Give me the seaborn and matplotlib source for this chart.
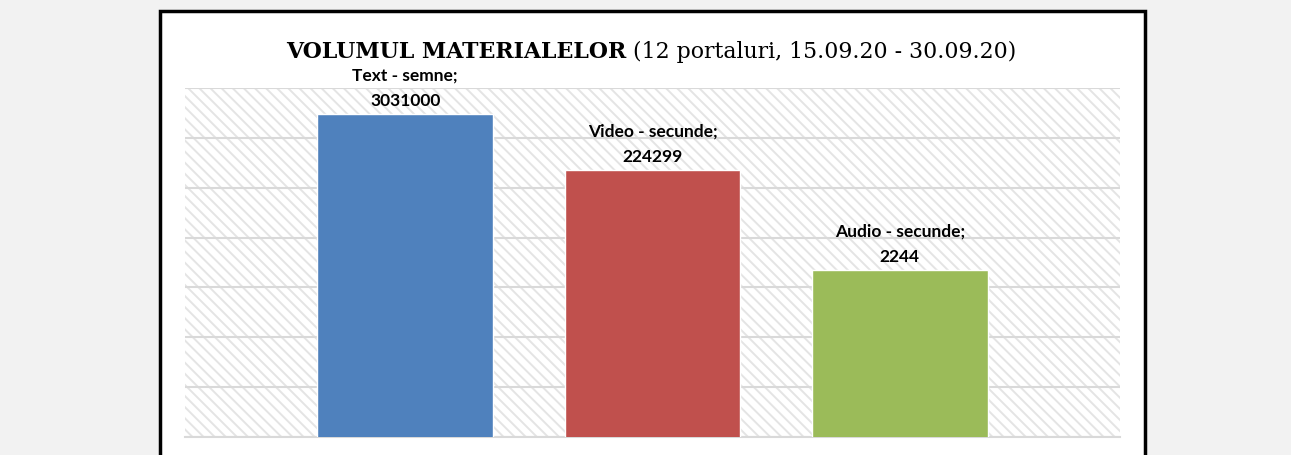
import numpy as np
import pandas as pd
import seaborn as sns
import matplotlib.pyplot as plt
from matplotlib.patches import Rectangle

# data
categories = ["Text - semne;", "Video - secunde;", "Audio - secunde;"]
values = [3031000, 224299, 2244]
bar_colors = ["#4f81bd", "#c0504d", "#9bbb59"]
title_bold = "VOLUMUL MATERIALELOR"
title_rest = " (12 portaluri, 15.09.20 - 30.09.20)"

df = pd.DataFrame({"cat": categories, "val": values})

sns.set_theme(style="white")
plt.rcParams["font.family"] = ["Lato", "DejaVu Sans"]
plt.rcParams["hatch.linewidth"] = 1.4

W, H = 1291, 456
fig = plt.figure(figsize=(W / 100, H / 100), dpi=100)
fig.patch.set_facecolor("#f2f2f2")

# white chart frame with black border
frame = Rectangle((160 / W, -0.05), (1145 - 160) / W, 1.05 - 12 / H, transform=fig.transFigure,
                  facecolor="white", edgecolor="black", linewidth=2.5, zorder=-5)
fig.patches.append(frame)

ax = fig.add_axes([185 / W, 1 - 438 / H, (1120 - 185) / W, (438 - 89) / H])
ax.set_zorder(2)
ax.set_yscale("log")
ax.patch.set_facecolor("white")
ax.patch.set_edgecolor("#e4e4e4")
ax.patch.set_hatch("\\\\\\")
ax.patch.set_linewidth(0)

sns.barplot(data=df, x="cat", y="val", hue="cat", palette=bar_colors,
            legend=False, width=0.71, saturation=1, ax=ax, zorder=3)

ax.set_ylim(1, 1e7)
ax.set_xlim(-0.89, 2.89)
ax.set_yticks([10 ** k for k in range(8)])
ax.yaxis.set_minor_locator(plt.NullLocator())
ax.grid(axis="y", color="#d9d9d9", linewidth=1.5, zorder=1)
ax.set_axisbelow(True)
ax.tick_params(left=False, bottom=False, labelleft=False, labelbottom=False)
ax.set_xlabel("")
ax.set_ylabel("")
for s in ["top", "right", "left"]:
    ax.spines[s].set_visible(False)
ax.spines["bottom"].set_color("#d9d9d9")
ax.spines["bottom"].set_linewidth(1.5)

# data labels: category and value on two lines
for cont, cat, v in zip(ax.containers, categories, values):
    ax.bar_label(cont, labels=[f"{cat}\n{v}"], padding=4.5, fontsize=12.5,
                 fontweight="bold", color="black", linespacing=1.7)

# title: bold part + regular part, centred over the plot
fig.canvas.draw()
r = fig.canvas.get_renderer()
t1 = fig.text(0, 1 - 58 / H, title_bold, family="DejaVu Serif", fontweight="bold",
              fontsize=10, va="baseline", color="black")
t2 = fig.text(0, 1 - 58 / H, title_rest, family="DejaVu Serif", fontsize=10,
              va="baseline", color="black")
w = t1.get_window_extent(r).width + t2.get_window_extent(r).width
fs = 10 * 728 / w
t1.set_fontsize(fs)
t2.set_fontsize(fs)
w1 = t1.get_window_extent(r).width
w2 = t2.get_window_extent(r).width
x0 = 651 - (w1 + w2) / 2
t1.set_x(x0 / W)
t2.set_x((x0 + w1) / W)

fig.savefig("out.png", dpi=100, facecolor=fig.get_facecolor())
